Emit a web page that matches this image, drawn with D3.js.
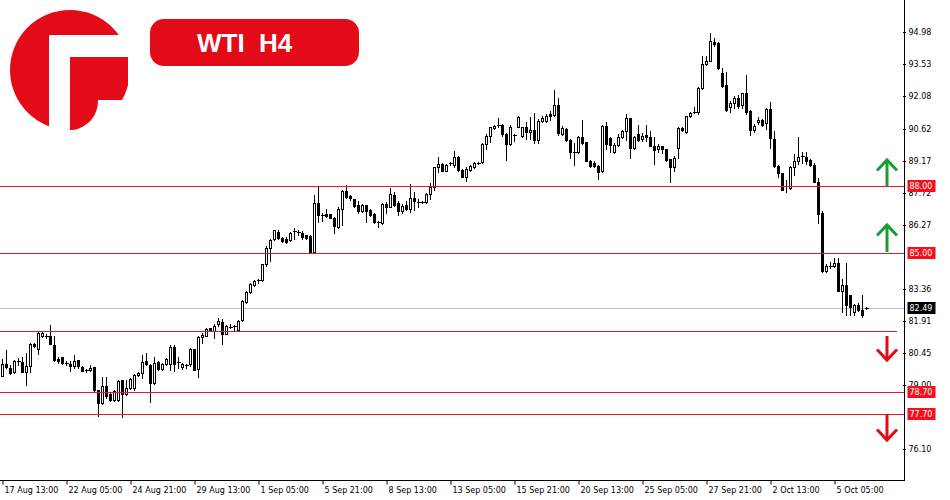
<!DOCTYPE html>
<html><head><meta charset="utf-8">
<script src="https://cdn.jsdelivr.net/npm/d3@7"></script>
<style>body{margin:0;background:#fff}svg{display:block}</style>
</head><body><svg id="c" width="950" height="500"></svg>
<script>
// ---- data (WTI H4 candles) ----
const opens=[79.40,79.96,79.78,79.58,80.06,80.03,79.62,79.88,80.86,80.62,81.21,81.24,81.21,80.83,80.18,80.26,80.00,79.96,79.85,80.12,79.81,79.70,79.70,79.81,78.77,78.19,78.95,78.60,78.34,78.34,79.23,78.62,78.87,78.87,79.45,79.55,80.08,79.93,79.10,80.03,79.75,79.96,79.98,80.73,80.05,
79.82,79.91,79.94,80.62,79.74,81.18,81.25,81.57,81.45,81.75,81.86,81.34,81.63,81.64,81.52,81.95,82.78,83.23,83.53,83.74,83.76,84.47,85.22,85.60,85.95,85.68,85.63,85.56,85.92,85.92,85.87,85.78,85.75,85.03,87.23,86.69,86.73,86.73,86.58,86.17,87.00,87.79,87.56,87.41,87.14,
86.90,87.16,86.93,86.75,86.37,86.33,87.20,87.08,87.61,87.23,86.90,87.16,86.98,87.46,87.30,87.28,87.28,87.66,87.99,88.89,89.02,88.71,89.02,88.98,89.32,88.74,88.44,88.74,88.89,89.07,89.12,89.92,90.30,90.65,90.75,90.78,90.37,89.92,90.35,90.71,90.30,90.68,90.45,90.56,90.10,
90.94,90.94,91.27,91.24,91.70,90.37,90.61,90.11,89.58,89.58,90.23,90.00,89.17,89.05,88.93,88.71,90.75,90.19,89.55,89.89,90.22,90.52,91.09,89.73,90.37,90.15,90.34,90.26,89.81,89.70,89.81,89.70,89.23,88.86,89.73,90.64,90.45,91.17,91.35,91.35,92.45,93.54,93.69,94.54,94.50,
93.15,92.59,91.58,91.76,92.01,91.68,92.21,91.41,90.55,90.91,91.00,90.85,91.49,90.14,88.92,88.59,88.02,87.91,88.86,89.14,89.34,89.34,89.19,88.99,88.21,86.80,84.18,84.39,84.41,84.54,83.27,83.53,83.07,82.32,82.65,82.40,82.49];
const highs=[80.20,80.58,79.93,80.16,80.23,80.26,80.45,80.91,80.90,81.40,81.44,81.32,81.74,81.21,80.30,80.28,80.11,80.08,80.35,80.15,79.85,79.75,79.90,79.83,78.80,79.36,79.36,78.65,78.78,79.23,79.25,79.23,79.35,79.50,79.60,80.38,80.45,79.95,80.26,80.10,80.00,80.22,80.80,80.80,80.26,
80.00,79.98,80.70,80.65,81.22,81.37,81.60,81.60,81.75,82.05,81.98,81.72,81.75,81.72,81.95,82.84,83.26,83.64,83.76,83.79,84.50,85.30,85.60,86.05,86.01,85.72,85.71,85.92,86.10,86.01,85.98,85.82,85.78,87.61,87.97,86.78,86.96,86.76,86.61,87.05,87.82,88.05,87.59,87.44,87.36,
87.20,87.18,86.96,86.78,86.42,87.23,87.28,87.93,87.73,87.33,87.20,87.36,88.11,87.73,87.43,87.36,87.70,88.14,88.89,89.32,89.05,89.02,89.12,89.62,89.40,88.77,88.86,88.99,89.10,89.12,89.95,90.37,90.71,90.78,91.08,90.83,90.40,90.78,90.37,91.18,90.70,90.90,91.13,91.31,91.05,
91.17,91.27,91.42,92.38,92.00,90.72,90.64,90.15,89.96,90.30,91.02,90.03,89.20,89.13,88.98,90.79,90.90,90.26,89.96,90.37,90.56,91.27,91.12,90.30,90.79,90.41,90.76,90.52,90.22,89.92,89.81,89.70,89.26,89.36,90.68,90.67,91.21,91.36,91.58,92.48,93.92,93.92,94.94,94.72,94.52,
93.34,93.16,91.88,92.09,92.13,92.24,93.04,91.46,90.82,91.15,91.04,91.53,91.83,90.50,88.96,88.62,88.28,88.92,89.49,90.25,89.57,89.57,89.26,89.04,88.36,86.89,84.48,84.58,84.77,84.74,83.80,84.54,83.10,82.70,82.73,83.07,82.53];
const lows=[79.40,79.78,79.50,79.55,79.93,79.59,79.02,79.58,80.72,80.43,81.17,81.13,80.86,80.08,80.00,79.98,79.90,79.66,79.78,79.80,79.63,79.60,79.63,78.75,77.62,78.15,78.42,78.30,78.30,78.27,77.57,78.54,78.85,78.80,79.40,79.35,79.93,78.22,79.05,79.70,79.70,79.90,79.67,79.63,79.80,
79.75,79.80,79.86,79.67,79.36,80.92,81.22,81.48,81.15,81.67,80.87,81.30,81.60,81.45,81.45,81.90,82.73,83.19,83.49,83.64,83.72,84.39,84.62,85.56,85.63,85.48,85.45,85.53,85.63,85.78,85.63,85.63,85.01,85.01,86.39,86.43,86.61,86.55,85.90,86.14,86.24,87.49,87.40,87.08,86.78,
86.83,86.40,86.66,86.34,86.18,86.30,86.78,87.05,87.13,86.72,86.78,86.93,86.83,86.93,87.08,87.25,87.25,87.43,87.84,88.64,88.68,88.68,88.95,88.86,88.71,88.41,88.26,88.71,88.84,89.00,89.08,89.70,90.03,90.60,90.71,90.30,89.20,89.88,90.04,90.68,90.25,90.15,90.15,89.95,89.98,
90.90,90.90,91.02,91.17,90.34,90.34,90.04,89.28,88.95,89.50,89.90,89.13,88.90,88.86,88.35,88.65,89.69,89.58,89.50,89.81,90.19,90.11,89.28,89.70,90.06,90.04,90.04,89.81,89.01,89.55,89.51,89.17,88.18,88.71,89.28,90.49,90.41,91.13,91.32,91.30,92.42,93.48,93.66,94.34,93.30,
92.51,91.43,91.38,91.53,91.53,91.53,91.27,90.32,90.47,90.82,90.73,90.62,89.76,88.89,88.44,87.83,87.75,87.89,88.51,89.01,89.04,89.01,88.92,88.18,86.35,84.13,84.13,84.33,84.36,83.26,82.32,82.17,82.17,82.17,82.37,82.07,82.46];
const closes=[79.96,79.81,79.55,80.08,80.10,79.62,79.88,80.86,80.76,81.36,81.36,81.17,80.88,80.15,80.11,80.00,79.95,79.85,80.11,79.85,79.66,79.65,79.76,78.80,78.19,78.95,78.50,78.34,78.75,79.20,78.60,78.87,79.30,79.45,79.55,80.05,79.96,79.10,80.00,79.75,79.96,80.18,80.73,79.98,80.00,
79.94,79.88,80.62,79.71,81.18,81.27,81.55,81.52,81.70,81.90,81.34,81.68,81.63,81.68,81.90,82.81,83.23,83.59,83.70,83.76,84.47,85.22,85.56,86.01,85.68,85.53,85.50,85.87,85.96,85.90,85.71,85.68,85.03,87.23,86.69,86.69,86.66,86.58,86.20,87.00,87.79,87.53,87.47,87.11,86.91,
87.16,86.90,86.70,86.37,86.33,87.20,87.05,87.66,87.17,86.90,87.13,86.98,87.46,87.33,87.28,87.30,87.66,87.96,88.86,89.02,88.71,88.98,89.07,89.32,88.74,88.44,88.79,88.94,89.06,89.05,89.92,90.30,90.68,90.75,90.77,90.37,89.92,90.71,90.33,91.13,90.68,90.45,90.56,90.08,90.95,
91.09,91.20,91.21,91.67,90.41,90.64,90.11,89.58,89.55,90.26,89.96,89.17,88.93,88.93,88.65,90.75,89.92,89.89,89.89,90.26,90.52,91.09,89.73,90.26,90.08,90.30,90.26,89.81,89.66,89.81,89.70,89.20,88.90,89.28,90.64,90.56,91.17,91.32,91.38,92.45,93.54,93.69,94.60,94.45,93.36,
92.54,91.46,91.79,92.01,91.65,92.21,91.38,90.55,90.73,91.00,90.76,91.49,90.17,88.92,88.59,87.86,88.00,88.89,89.14,89.34,89.36,89.16,88.99,88.21,86.77,84.18,84.39,84.41,84.54,83.27,83.53,82.62,82.54,82.65,82.40,82.17,82.49];

const xTickLabels=["17 Aug 13:00","22 Aug 05:00","24 Aug 21:00","29 Aug 13:00","1 Sep 05:00","5 Sep 21:00","8 Sep 13:00","13 Sep 05:00","15 Sep 21:00","20 Sep 13:00","25 Sep 05:00","27 Sep 21:00","2 Oct 13:00","5 Oct 05:00"];
const xTickBars=[0,16,32,48,64,80,96,112,128,144,160,176,192,208];
const yTickValues=[94.98,93.53,92.08,90.62,89.17,87.72,86.27,83.36,81.91,80.45,79.00,76.10];
const levelValues=[88.00,85.00,81.45,78.70,77.70];
const levelLabels=["88.00","85.00","","78.70","77.70"];
const currentPrice=82.49;
const titleText="WTI  H4";

// ---- drawing ----
const RED="#e30b17", LINE_RED="#ee1820", GREEN="#1a9c35", FONT="'DejaVu Sans', Verdana, sans-serif";
const svg=d3.select("#c");
const n=opens.length;
const x=d3.scaleLinear().domain([0,n-1]).range([2.5,2.5+4*(n-1)]);
const y=d3.scaleLinear().domain([74.71,96.44]).range([480,0]);
const py=v=>Math.round(y(v))+0.5;

// current price line (behind)
svg.append("line").attr("x1",0).attr("x2",904).attr("y1",py(currentPrice)).attr("y2",py(currentPrice))
  .attr("stroke","#c0c0c0").attr("stroke-width",1);

// candles
const data=d3.range(n).map(i=>({i,o:opens[i],h:highs[i],l:lows[i],c:closes[i]}));
const g=svg.append("g");
const cg=g.selectAll("g.c").data(data).join("g");
cg.append("line").attr("x1",d=>x(d.i)).attr("x2",d=>x(d.i))
  .attr("y1",d=>Math.round(y(d.h))).attr("y2",d=>Math.round(y(d.l))+1)
  .attr("stroke","#000").attr("stroke-width",1).attr("shape-rendering","crispEdges");
cg.each(function(d){
  const s=d3.select(this);
  const top=Math.round(y(Math.max(d.o,d.c))), bot=Math.round(y(Math.min(d.o,d.c)));
  if(bot-top<2){
    s.append("line").attr("x1",x(d.i)-1.5).attr("x2",x(d.i)+2.5).attr("y1",top+0.5).attr("y2",top+0.5)
      .attr("stroke","#000").attr("stroke-width",1).attr("shape-rendering","crispEdges");
  } else {
    s.append("rect").attr("x",x(d.i)-1).attr("y",top+0.5).attr("width",2).attr("height",bot-top)
      .attr("fill",d.c>=d.o?"#fff":"#000").attr("stroke","#000").attr("stroke-width",1);
  }
});

// level lines
levelValues.forEach((v,k)=>{
  svg.append("line").attr("x1",0).attr("x2",levelLabels[k]?904:897).attr("y1",py(v)).attr("y2",py(v))
    .attr("stroke",LINE_RED).attr("stroke-width",1);
});

// axes lines
svg.append("line").attr("x1",0).attr("x2",905).attr("y1",480.5).attr("y2",480.5).attr("stroke","#000");
svg.append("line").attr("x1",904.5).attr("x2",904.5).attr("y1",0).attr("y2",481).attr("stroke","#000");

// y axis
const ya=svg.append("g").attr("transform","translate(904.5,0)")
  .call(d3.axisRight(y).tickValues(yTickValues).tickFormat(d3.format(".2f")).tickSize(2).tickSizeOuter(0).tickPadding(2));
ya.select(".domain").remove();
ya.selectAll(".tick line").attr("x1",-1.5).attr("x2",1.5).attr("stroke","#000");
ya.selectAll(".tick text").attr("x",4).attr("dy","0.28em").attr("font-family",FONT).attr("font-size",8).attr("fill","#000");
ya.selectAll(".tick").attr("transform",d=>`translate(0,${Math.round(y(d))+0.5})`);

// x axis
const xa=svg.append("g").attr("transform","translate(0,480.5)")
  .call(d3.axisBottom(x).tickValues(xTickBars).tickFormat((d,i)=>xTickLabels[i]).tickSize(4).tickSizeOuter(0).tickPadding(3));
xa.select(".domain").remove();
xa.selectAll(".tick line").attr("stroke","#000");
xa.selectAll(".tick text").attr("text-anchor","start").attr("x",1.5).attr("font-family",FONT).attr("font-size",8).attr("fill","#000");

// price labels on axis
levelValues.forEach((v,k)=>{
  if(!levelLabels[k]) return;
  const yy=py(v);
  svg.append("rect").attr("x",907.5).attr("y",Math.round(yy-6.5)).attr("width",28).attr("height",12).attr("fill","#f5101c");
  svg.append("text").attr("x",909.5).attr("y",yy).attr("dy","0.33em").attr("font-family",FONT).attr("font-size",8)
    .attr("fill","#fff").text(levelLabels[k]);
});
{
  const yy=py(currentPrice);
  svg.append("rect").attr("x",907.5).attr("y",Math.round(yy-6.5)).attr("width",28).attr("height",12).attr("fill","#000");
  svg.append("text").attr("x",909.5).attr("y",yy).attr("dy","0.33em").attr("font-family",FONT).attr("font-size",8)
    .attr("fill","#fff").text(d3.format(".2f")(currentPrice));
}

// arrows
function arrow(cx,tip,tail,dir,color){
  const a=svg.append("g").attr("stroke",color).attr("stroke-width",3).attr("fill","none");
  a.append("line").attr("x1",cx).attr("x2",cx).attr("y1",tip+(dir<0?1:-1)).attr("y2",tail);
  a.append("path").attr("d",`M${cx-10},${tip-dir*10.5} L${cx},${tip} L${cx+10},${tip-dir*10.5}`).attr("stroke-linejoin","miter");
}
arrow(887,160,186,-1,GREEN);
arrow(887,225,252,-1,GREEN);
arrow(887,360,336,1,RED);
arrow(887,440,414,1,RED);

// logo
const lg=svg.append("g");
lg.append("circle").attr("cx",70).attr("cy",70).attr("r",60).attr("fill",RED);
lg.append("path").attr("fill","#fff").attr("d","M49,36 Q49,35 51,35 L140,35 L140,57 L70,57 L70,140 L49,140 Z");
lg.append("path").attr("fill","#fff").attr("d","M98,100 C98,115 90,126 72,131 L72,140 L140,140 L140,100 Z");
lg.append("rect").attr("x",128).attr("y",57).attr("width",10).attr("height",44).attr("fill","#fff");

// title pill
svg.append("rect").attr("x",150).attr("y",19).attr("width",209).attr("height",47).attr("rx",14).attr("fill",RED);
svg.append("text").attr("x",197).attr("y",52).attr("font-family","'Liberation Sans', Arial, sans-serif")
  .attr("font-weight","bold").attr("font-size",26).attr("fill","#fff").style("white-space","pre").text(titleText);
</script></body></html>
